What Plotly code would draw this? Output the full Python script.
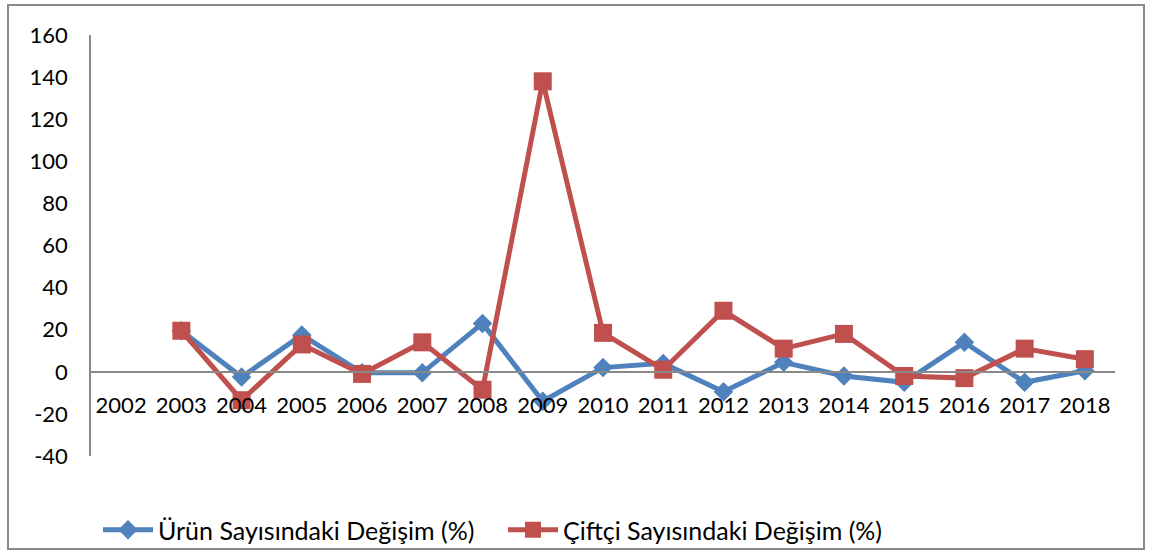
import plotly.graph_objects as go

years = [str(y) for y in range(2002, 2019)]
urun = [None, 19.5, -2.5, 17.5, -0.5, -0.5, 23, -14, 2, 4, -9.5, 4.5, -2, -5, 14, -5, 0.5]
ciftci = [None, 19.5, -13.5, 13, -1, 14, -8.5, 138, 18.5, 1, 29, 11, 18, -2, -3, 11, 6]
y_ticks = [-40, -20, 0, 20, 40, 60, 80, 100, 120, 140, 160]
y_ticktext = ["-40", "-20", "0", "20", "40", "60", "80", "100", "120", "140", "160"]
names = ["Ürün Sayısındaki Değişim (%)", "Çiftçi Sayısındaki Değişim (%)"]

W, H = 1154, 552
L, R, T, B = 91, 39, 35, 96
pw, ph = W - L - R, H - T - B
FONT = "Lato, 'Open Sans', sans-serif"

fig = go.Figure()
fig.add_trace(go.Scatter(x=years, y=urun, name=names[0], mode="lines+markers",
                         line=dict(color="#4F81BD", width=5),
                         marker=dict(symbol="diamond", size=15, color="#4F81BD")))
fig.add_trace(go.Scatter(x=years, y=ciftci, name=names[1], mode="lines+markers",
                         line=dict(color="#C0504D", width=5),
                         marker=dict(symbol="square", size=18, color="#C0504D")))

ymin, ymax = -40, 160
zero_frac = (0 - ymin) / (ymax - ymin)

fig.update_layout(
    width=W, height=H,
    margin=dict(l=L, r=R, t=T, b=B, autoexpand=False),
    paper_bgcolor="white", plot_bgcolor="white",
    font=dict(family=FONT, size=22, color="black"),
    showlegend=True,
    legend=dict(orientation="h", x=(98 - L) / pw, xanchor="left", y=-(530 - (H - B)) / ph,
                yanchor="middle", font=dict(size=25), itemwidth=50, tracegroupgap=0,
                entrywidth=340, entrywidthmode="pixels",
                bgcolor="rgba(0,0,0,0)"),
    xaxis=dict(type="category", categoryorder="array", categoryarray=years,
               anchor="free", position=zero_frac, showline=True, linecolor="#898989", linewidth=1.5,
               showgrid=False, zeroline=False, ticks="", ticklabelstandoff=14,
               tickfont=dict(size=22), range=[-0.5, 16.5], automargin=False),
    yaxis=dict(range=[ymin, ymax], tickvals=y_ticks, ticktext=y_ticktext, showline=True,
               linecolor="#898989", linewidth=1.5,
               showgrid=False, zeroline=False, ticks="", ticklabelstandoff=17,
               tickfont=dict(size=22), automargin=False),
)

fig.add_shape(type="rect", xref="paper", yref="paper",
              x0=(8 - L) / pw, x1=(1144 - L) / pw,
              y0=-(549 - (H - B)) / ph, y1=((H - B) - 5) / ph,
              line=dict(color="#8a8a8a", width=2), fillcolor="rgba(0,0,0,0)", layer="below")

fig.write_html("out.html", config={"displayModeBar": False},
               post_script="document.body.style.margin='0';document.body.style.overflow='hidden';")
